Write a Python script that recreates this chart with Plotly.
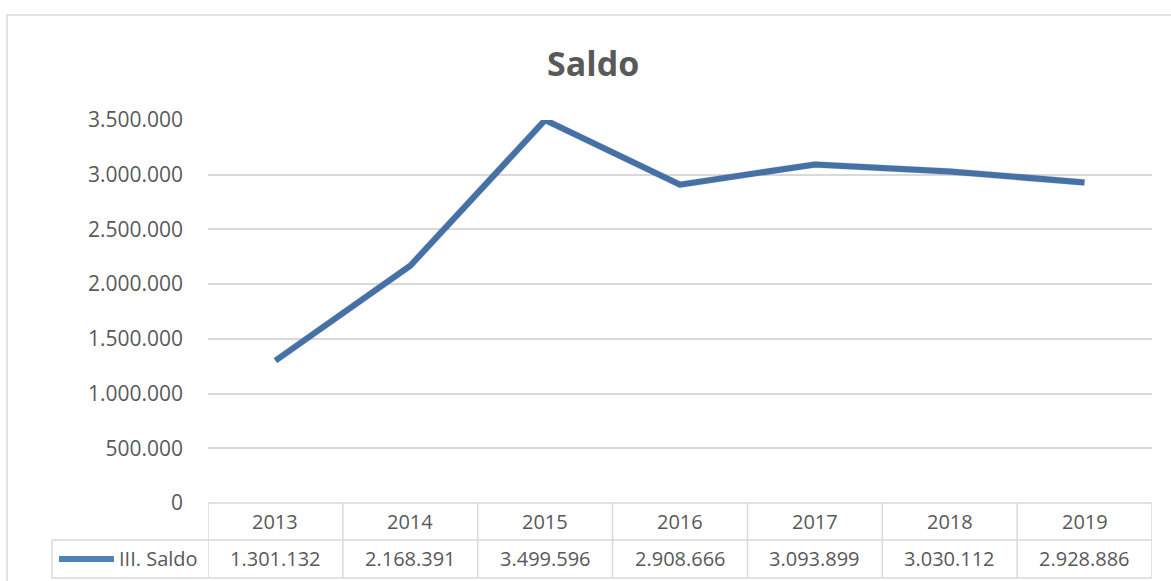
import plotly.graph_objects as go

years = ["2013", "2014", "2015", "2016", "2017", "2018", "2019"]
saldo = [1301132, 2168391, 3499596, 2908666, 3093899, 3030112, 2928886]
series_name = "III. Saldo"
title_text = "Saldo"
y_ticks = [0, 500000, 1000000, 1500000, 2000000, 2500000, 3000000, 3500000]

W, H = 1171, 581
def px(x):
    return x / W
def py(y):
    return 1 - y / H

LINE = "#4F81BD"
GRID = "#D9D9D9"
TXT = "#595959"
FONT = "Open Sans"

def fmt(v):
    return f"{v:,}".replace(",", ".")

x_dom = [px(208), px(1152)]
y_dom = [py(503), py(120)]

fig = go.Figure()
# soft shadow of the line (same data, slightly offset axes)
fig.add_trace(go.Scatter(x=years, y=saldo, mode="lines", xaxis="x2", yaxis="y2",
                         line=dict(color="rgba(0,0,0,0.12)", width=7), hoverinfo="skip",
                         showlegend=False))
fig.add_trace(go.Scatter(x=years, y=saldo, mode="lines", name=series_name,
                         line=dict(color=LINE, width=6), showlegend=False))

shapes = []
# outer chart border
shapes.append(dict(type="rect", xref="paper", yref="paper", x0=px(7), x1=px(1185),
                   y0=py(600), y1=py(15), line=dict(color=GRID, width=1.5), layer="below"))
# data table lines
n = len(years)
top, mid, bot = py(503), py(540), py(578)
shapes.append(dict(type="line", xref="x", yref="paper", x0=-0.5, x1=n - 0.5, y0=top, y1=top,
                   line=dict(color=GRID, width=1.5)))
for yy in (mid, bot):
    shapes.append(dict(type="line", xref="paper", yref="paper", x0=px(52), x1=x_dom[1], y0=yy, y1=yy,
                       line=dict(color=GRID, width=1.5)))
for i in range(n + 1):
    shapes.append(dict(type="line", xref="x", yref="paper", x0=i - 0.5, x1=i - 0.5, y0=top, y1=bot,
                       line=dict(color=GRID, width=1.5)))
shapes.append(dict(type="line", xref="paper", yref="paper", x0=px(52), x1=px(52), y0=mid, y1=bot,
                   line=dict(color=GRID, width=1.5)))
# legend key
shapes.append(dict(type="line", xref="paper", yref="paper", x0=px(59), x1=px(114), y0=py(559), y1=py(559),
                   line=dict(color=LINE, width=6)))

annotations = []
for i, (yr, v) in enumerate(zip(years, saldo)):
    annotations.append(dict(x=i, xref="x", y=py(521), yref="paper", text=yr, showarrow=False,
                            font=dict(family=FONT, size=20, color=TXT), xanchor="center", yanchor="middle"))
    annotations.append(dict(x=i, xref="x", y=py(558), yref="paper", text=fmt(v), showarrow=False,
                            font=dict(family=FONT, size=20, color=TXT), xanchor="center", yanchor="middle"))
annotations.append(dict(x=px(200), xref="paper", y=py(558), yref="paper", text=series_name, showarrow=False,
                        font=dict(family=FONT, size=20, color=TXT), xanchor="right", yanchor="middle"))
annotations.append(dict(x=px(593), xref="paper", y=py(63), yref="paper", text=f"<b>{title_text}</b>",
                        showarrow=False, font=dict(family=FONT, size=34, color=TXT),
                        xanchor="center", yanchor="middle"))

fig.update_layout(
    width=W, height=H,
    autosize=False,
    margin=dict(l=0, r=0, t=0, b=0, pad=0, autoexpand=False),
    paper_bgcolor="white", plot_bgcolor="white",
    separators=",.",
    xaxis=dict(domain=x_dom, type="category", range=[-0.5, n - 0.5], showticklabels=False,
               showgrid=False, zeroline=False, showline=False, fixedrange=True, automargin=False),
    yaxis=dict(domain=y_dom, range=[0, 3500000], tickvals=y_ticks, tickformat=",d",
               showgrid=True, gridcolor=GRID, gridwidth=1.5, zeroline=False, showline=False,
               ticks="", ticklabelstandoff=24, automargin=False,
               tickfont=dict(family=FONT, size=21, color=TXT)),
    xaxis2=dict(domain=[x_dom[0] + px(2), x_dom[1] + px(2)], type="category", range=[-0.5, n - 0.5],
                overlaying="x", visible=False),
    yaxis2=dict(domain=[y_dom[0] - 3 / H, y_dom[1] - 3 / H], range=[0, 3500000], overlaying="y",
                visible=False),
    shapes=shapes,
    annotations=annotations,
    showlegend=False,
)

fig.write_html("out.html", config={"displayModeBar": False},
               post_script="document.body.style.margin='0px';")
